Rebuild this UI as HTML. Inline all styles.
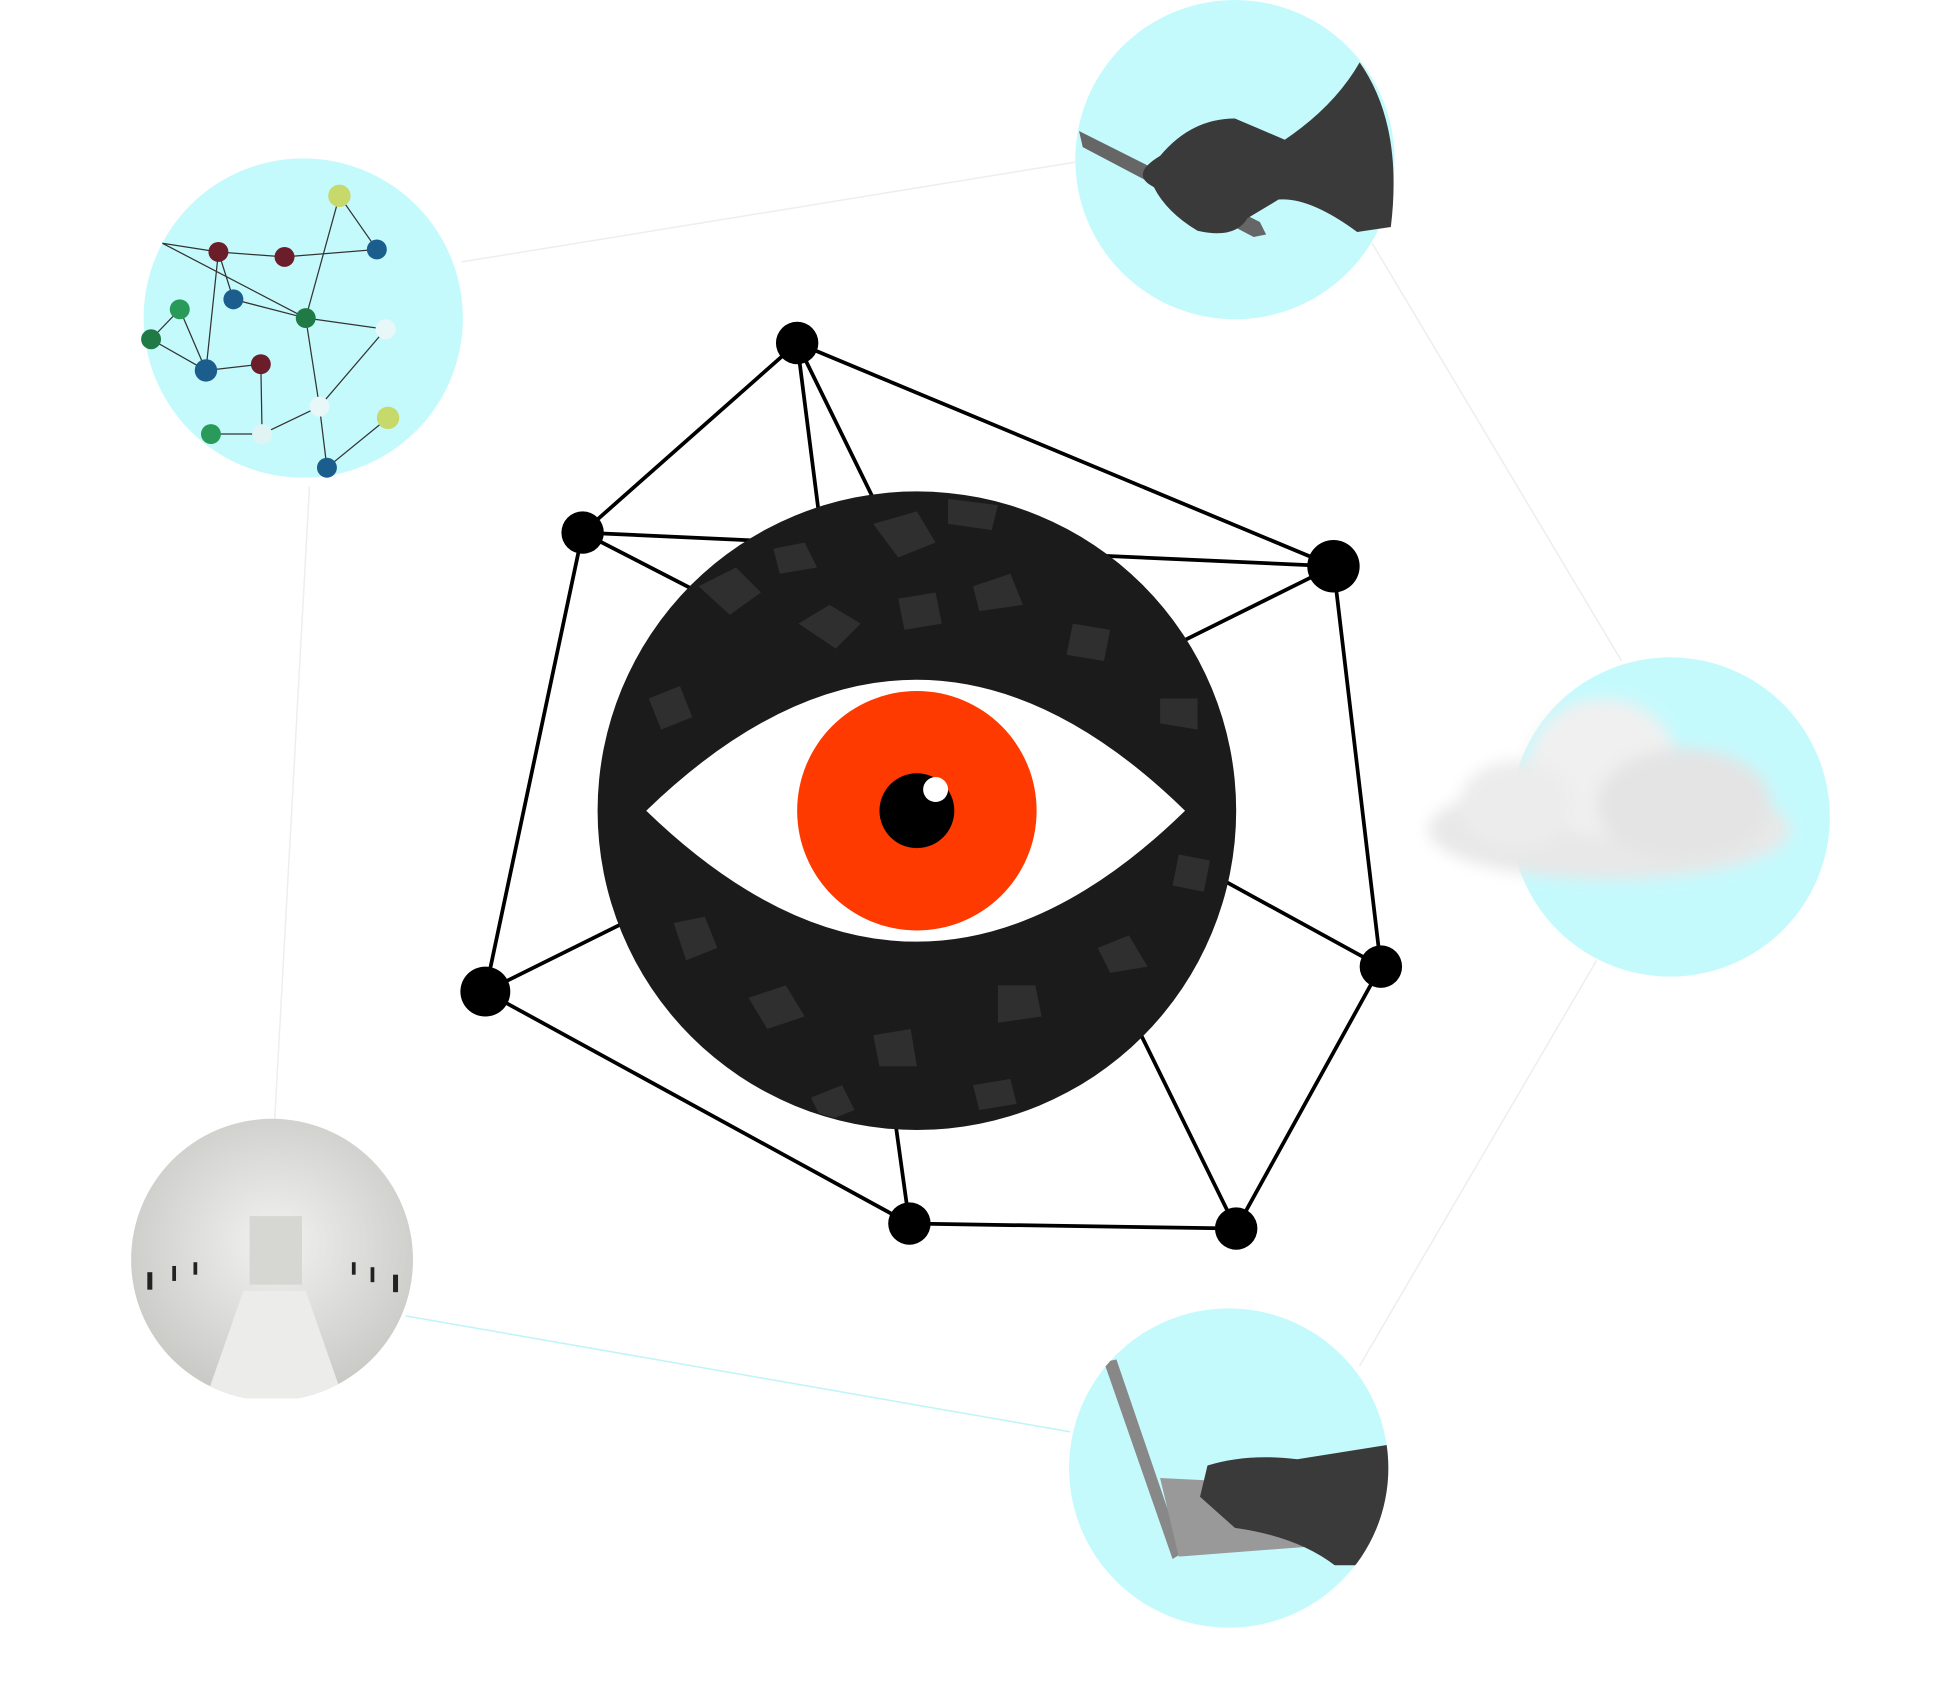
<!DOCTYPE html>
<html><head><meta charset="utf-8"><style>html,body{margin:0;padding:0;background:#fff}svg{display:block}</style></head>
<body>
<svg width="1956" height="1700" viewBox="0 0 1568 1363" xmlns="http://www.w3.org/2000/svg">
<defs>
<filter id="bl" x="-30%" y="-30%" width="160%" height="160%"><feGaussianBlur stdDeviation="6"/></filter>
<radialGradient id="gr" cx="50%" cy="45%" r="55%"><stop offset="0" stop-color="#f2f2f0"/><stop offset="1" stop-color="#c9c9c6"/></radialGradient>
<clipPath id="cc"><circle cx="735" cy="650" r="255"/></clipPath>
<clipPath id="c1"><path d="M862 0 H1120 V260 H862Z"/></clipPath>
<clipPath id="c2"><circle cx="218" cy="1010" r="113"/></clipPath>
<clipPath id="c3"><circle cx="985" cy="1177" r="128"/></clipPath>
</defs>
<g stroke-width="1.2" fill="none">
<line x1="370" y1="210" x2="862" y2="130" stroke="#eeeeee"/>
<line x1="1100" y1="195" x2="1300" y2="530" stroke="#eeeeee"/>
<line x1="248" y1="390" x2="220" y2="900" stroke="#eeeeee"/>
<line x1="1280" y1="770" x2="1090" y2="1095" stroke="#eeeeee"/>
<line x1="325" y1="1055" x2="858" y2="1148" stroke="#bff4f8"/>
</g>
<circle cx="990" cy="128" r="128" fill="#c5fafd"/>
<g clip-path="url(#c1)">
<path d="M865 105 L1010 178 L1015 188 L1005 190 L868 118Z" fill="#666"/>
<path d="M930 125 Q955 95 990 95 L1030 112 Q1070 85 1090 50 Q1125 100 1115 182 L1088 186 Q1050 158 1025 160 L1000 175 Q990 192 960 185 Q935 170 925 150 Q905 140 930 125Z" fill="#3a3a3a"/>
</g>
<circle cx="243" cy="255" r="128" fill="#c5fafd"/>
<g stroke="#333" stroke-width="1" fill="none">
<path d="M130 195 L175 202 L228 206 L302 200 L272 157 L245 255 L187 240 L175 202 L165 297 L144 248 L121 272 L165 297 L209 292 L210 348 L169 348 M245 255 L309 264 L256 326 L262 375 L311 335 M256 326 L210 348 M245 255 L256 326 M130 195 L245 255"/>
</g>
<g>
<circle cx="272" cy="157" r="9" fill="#c7d96a"/><circle cx="175" cy="202" r="8" fill="#6b1d2a"/><circle cx="228" cy="206" r="8" fill="#6b1d2a"/><circle cx="302" cy="200" r="8" fill="#1b5d8c"/><circle cx="187" cy="240" r="8" fill="#1b5d8c"/><circle cx="144" cy="248" r="8" fill="#2a9a5a"/><circle cx="245" cy="255" r="8" fill="#1f7a45"/><circle cx="309" cy="264" r="8" fill="#e8f8f8"/><circle cx="121" cy="272" r="8" fill="#1f7a45"/><circle cx="165" cy="297" r="9" fill="#1b5d8c"/><circle cx="209" cy="292" r="8" fill="#6b1d2a"/><circle cx="256" cy="326" r="8" fill="#e8f8f8"/><circle cx="311" cy="335" r="9" fill="#c7d96a"/><circle cx="169" cy="348" r="8" fill="#2a9a5a"/><circle cx="210" cy="348" r="8" fill="#e0f4f4"/><circle cx="262" cy="375" r="8" fill="#1b5d8c"/>
</g>
<circle cx="1339" cy="655" r="128" fill="#c5fafd"/>
<g filter="url(#bl)"><ellipse cx="1290" cy="665" rx="145" ry="40" fill="#e8e8e8"/><ellipse cx="1285" cy="615" rx="60" ry="55" fill="#f0f0f0"/><ellipse cx="1350" cy="645" rx="70" ry="45" fill="#e4e4e4"/><ellipse cx="1215" cy="645" rx="45" ry="35" fill="#ececec"/></g>
<g clip-path="url(#c2)">
<rect x="100" y="895" width="240" height="226" fill="url(#gr)"/>
<path d="M200 975 L242 975 L242 1030 L200 1030Z" fill="#d6d6d2"/>
<path d="M195 1035 L245 1035 L275 1121 L165 1121Z" fill="#ececea"/>
<g fill="#222"><rect x="118" y="1020" width="4" height="14"/><rect x="138" y="1015" width="3" height="12"/><rect x="155" y="1012" width="3" height="10"/><rect x="315" y="1022" width="4" height="14"/><rect x="297" y="1016" width="3" height="12"/><rect x="282" y="1012" width="3" height="10"/></g>
</g>
<circle cx="985" cy="1177" r="128" fill="#c5fafd"/>
<g clip-path="url(#c3)">
<path d="M885 1092 L895 1090 L948 1245 L940 1250Z" fill="#888"/>
<path d="M930 1185 L1030 1190 L1050 1240 L945 1248Z" fill="#999"/>
<path d="M968 1175 Q1000 1165 1040 1170 L1115 1158 L1115 1255 L1070 1255 Q1040 1232 990 1225 L962 1200Z" fill="#3a3a3a"/>
</g>
<g stroke="#000" stroke-width="3" fill="none" stroke-linecap="round">
<line x1="639" y1="275" x2="467" y2="427"/><line x1="639" y1="275" x2="1069" y2="454"/>
<line x1="639" y1="275" x2="660" y2="440"/><line x1="639" y1="275" x2="710" y2="420"/>
<line x1="467" y1="427" x2="620" y2="434"/><line x1="467" y1="427" x2="570" y2="480"/>
<line x1="467" y1="427" x2="389" y2="795"/><line x1="1069" y1="454" x2="870" y2="445"/>
<line x1="1069" y1="454" x2="930" y2="523"/><line x1="1069" y1="454" x2="1107" y2="775"/>
<line x1="1107" y1="775" x2="970" y2="700"/><line x1="1107" y1="775" x2="991" y2="985"/>
<line x1="389" y1="795" x2="520" y2="730"/><line x1="389" y1="795" x2="729" y2="981"/>
<line x1="729" y1="981" x2="715" y2="880"/><line x1="729" y1="981" x2="991" y2="985"/>
<line x1="991" y1="985" x2="905" y2="810"/>
</g>
<circle cx="735" cy="650" r="256" fill="#1b1b1b"/>
<g clip-path="url(#cc)" fill="#2f2f2f">
<path d="M560 470 l30 -15 l20 20 l-25 18z"/><path d="M700 420 l35 -10 l15 25 l-30 12z"/><path d="M780 470 l30 -10 l10 25 l-35 5z"/><path d="M640 500 l25 -15 l25 15 l-20 20z"/><path d="M860 500 l30 5 l-5 25 l-30 -5z"/><path d="M520 560 l25 -10 l10 25 l-25 10z"/><path d="M930 560 l30 0 l0 25 l-30 -5z"/><path d="M600 800 l30 -10 l15 25 l-30 10z"/><path d="M700 830 l30 -5 l5 30 l-30 0z"/><path d="M800 790 l30 0 l5 25 l-35 5z"/><path d="M880 760 l25 -10 l15 25 l-30 5z"/><path d="M540 740 l25 -5 l10 25 l-25 10z"/><path d="M760 400 l40 5 l-5 20 l-35 -5z"/><path d="M620 440 l25 -5 l10 20 l-30 5z"/><path d="M945 685 l25 5 l-5 25 l-25 -5z"/><path d="M780 870 l30 -5 l5 20 l-30 5z"/><path d="M650 880 l25 -10 l10 20 l-25 10z"/><path d="M720 480 l30 -5 l5 25 l-30 5z"/>
</g>
<path d="M518 650 Q735 440 950 650 Q735 860 518 650Z" fill="#fff"/>
<circle cx="735" cy="650" r="96" fill="#ff3a00"/>
<circle cx="735" cy="650" r="30" fill="#000"/>
<circle cx="750" cy="633" r="10" fill="#fff"/>
<g fill="#000">
<circle cx="639" cy="275" r="17"/><circle cx="467" cy="427" r="17"/><circle cx="1069" cy="454" r="21"/><circle cx="1107" cy="775" r="17"/><circle cx="389" cy="795" r="20"/><circle cx="729" cy="981" r="17"/><circle cx="991" cy="985" r="17"/>
</g>
</svg>
</body></html>
